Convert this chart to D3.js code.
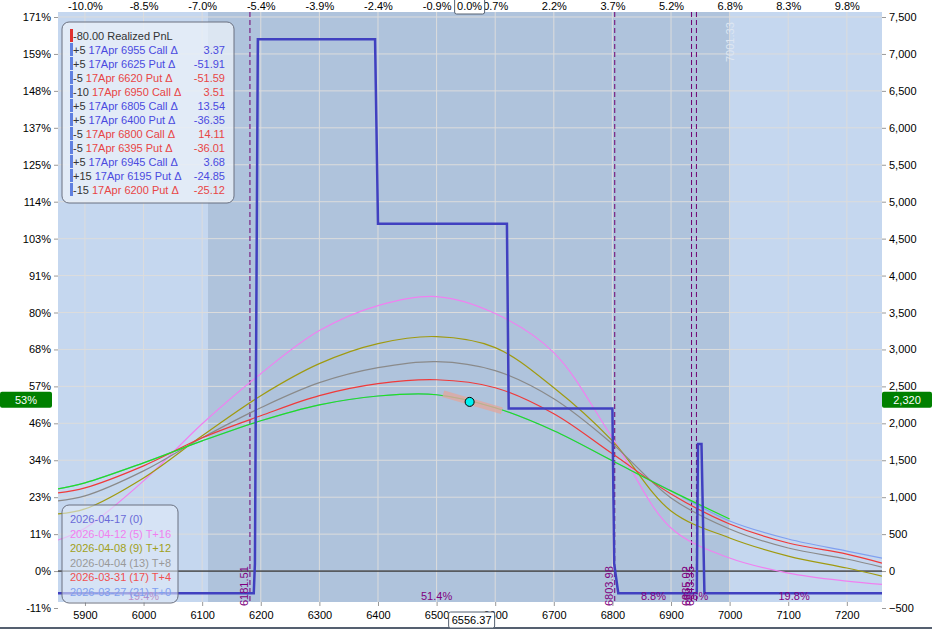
<!DOCTYPE html>
<html>
<head>
<meta charset="utf-8">
<script src="https://cdn.jsdelivr.net/npm/d3@7"></script>
<style>
  body { margin: 0; background: #fff; font-family: Arial, "Liberation Sans", sans-serif; }
  text { font-family: Arial, "Liberation Sans", sans-serif; }
</style>
</head>
<body>
<div id="chart"></div>
<script>
// ---- data ----
const spot = 6556.37;
const priceTicks = [5900, 6000, 6100, 6200, 6300, 6400, 6500, 6600, 6700, 6800, 6900, 7000, 7100, 7200];
const valueTicks = [-500, 0, 500, 1000, 1500, 2000, 2500, 3000, 3500, 4000, 4500, 5000, 5500, 6000, 6500, 7000, 7500];
const pctLabels = ["-11%", "0%", "11%", "23%", "34%", "46%", "57%", "68%", "80%", "91%", "103%", "114%", "125%", "137%", "148%", "159%", "171%"];
const curveX = [5854, 5900, 6000, 6100, 6200, 6300, 6400, 6500, 6600, 6700, 6800, 6900, 7000, 7100, 7200, 7260];

const expiryPts = [[5854, -300], [6188, -300], [6190, 100], [6195, 7200], [6395, 7200], [6400, 4700], [6620, 4700], [6623, 2200], [6800, 2200], [6803, 100], [6810, -300], [6944, -300], [6946, 1720], [6952, 1720], [6957, -300], [7260, -300]];
const pinkVals  = [420, 580, 1221, 1994, 2672, 3255, 3594, 3716, 3486, 2957, 1804, 583, 176, -27, -136, -180];
const oliveVals = [773, 841, 1261, 1831, 2374, 2808, 3079, 3174, 3025, 2482, 1763, 814, 448, 203, 41, -68];
const grayVals  = [949, 1017, 1356, 1804, 2211, 2550, 2753, 2835, 2713, 2333, 1722, 990, 570, 312, 163, 54];
const redVals   = [1058, 1126, 1424, 1804, 2102, 2374, 2536, 2590, 2482, 2129, 1587, 1044, 637, 380, 230, 108];
const lblueVals = [1112, 1194, 1465, 1763, 2034, 2250, 2370, 2387, 2211, 1899, 1492, 1085, 678, 434, 271, 176];
const greenVals = [1112, 1194, 1465, 1763, 2034, 2250, 2370, 2387, 2211, 1899, 1492, 1085, 705];

const legendRows = [
  ["+5", "17Apr 6955 Call Δ", "3.37", "#4a4ae0"],
  ["+5", "17Apr 6625 Put Δ", "-51.91", "#4a4ae0"],
  ["-5", "17Apr 6620 Put Δ", "-51.59", "#e84545"],
  ["-10", "17Apr 6950 Call Δ", "3.51", "#e84545"],
  ["+5", "17Apr 6805 Call Δ", "13.54", "#4a4ae0"],
  ["+5", "17Apr 6400 Put Δ", "-36.35", "#4a4ae0"],
  ["-5", "17Apr 6800 Call Δ", "14.11", "#e84545"],
  ["-5", "17Apr 6395 Put Δ", "-36.01", "#e84545"],
  ["+5", "17Apr 6945 Call Δ", "3.68", "#4a4ae0"],
  ["+15", "17Apr 6195 Put Δ", "-24.85", "#4a4ae0"],
  ["-15", "17Apr 6200 Put Δ", "-25.12", "#e84545"]
];
const dateRows = [
  ["2026-04-17 (0)", "#6a6ad8"],
  ["2026-04-12 (5) T+16", "#f080f0"],
  ["2026-04-08 (9) T+12", "#a0a020"],
  ["2026-04-04 (13) T+8", "#999999"],
  ["2026-03-31 (17) T+4", "#f05050"],
  ["2026-03-27 (21) T+0", "#80a0f0"]
];
const strikeLines = [6181.51, 6803.98, 6935.02, 6943.35];
const zoneLabels = [[6000, "19.4%"], [6500, "51.4%"], [6870, "8.8%"], [6942, "6.6%"], [7110, "19.8%"]];

// ---- layout ----
const W = 932, H = 629;
const m = {left: 58, right: 882, top: 12, bottom: 602};
const svg = d3.select("#chart").append("svg").attr("width", W).attr("height", H);

const x = d3.scaleLinear().domain([5854, 7260]).range([m.left, m.right]);
const y = d3.scaleLinear().domain([-500, 7500]).range([608, 17]);

svg.append("defs").append("clipPath").attr("id", "clip")
  .append("rect").attr("x", m.left).attr("y", m.top).attr("width", m.right - m.left).attr("height", m.bottom - m.top);

// backgrounds
svg.append("rect").attr("x", m.left).attr("y", m.top).attr("width", m.right - m.left).attr("height", m.bottom - m.top).attr("fill", "#c5d7ef");
svg.append("rect").attr("x", x(6110)).attr("y", m.top).attr("width", x(7000) - x(6110)).attr("height", m.bottom - m.top).attr("fill", "#afc3dc");

const g = svg.append("g").attr("clip-path", "url(#clip)");

// grid
g.selectAll(".vg").data(priceTicks).join("line")
  .attr("x1", d => x(d)).attr("x2", d => x(d)).attr("y1", m.top).attr("y2", m.bottom)
  .attr("stroke", "#dcdcdc").attr("stroke-width", 1);
g.selectAll(".hg").data(valueTicks).join("line")
  .attr("x1", m.left).attr("x2", m.right).attr("y1", d => y(d)).attr("y2", d => y(d))
  .attr("stroke", "#dcdcdc").attr("stroke-width", 1);
g.append("line").attr("x1", m.left).attr("x2", m.right).attr("y1", y(0)).attr("y2", y(0)).attr("stroke", "#000");

// strike lines
g.selectAll(".sl").data(strikeLines).join("line")
  .attr("x1", d => x(d)).attr("x2", d => x(d)).attr("y1", m.top).attr("y2", m.bottom)
  .attr("stroke", "#700070").attr("stroke-width", 1).attr("stroke-dasharray", "5,3");
svg.selectAll(".slt").data(strikeLines).join("text")
  .attr("transform", d => `translate(${x(d) - 2},606) rotate(-90)`)
  .attr("font-size", 11).attr("fill", "#800080").text(d => d.toFixed(2));
g.append("text").attr("transform", `translate(${x(7001.33) + 4},62) rotate(-90)`)
  .attr("font-size", 11).attr("fill", "#dde6f2").text("7001.33");

// curves
const line = d3.line().x(d => x(d[0])).y(d => y(d[1])).curve(d3.curveCatmullRom.alpha(0.5));
const series = [
  [lblueVals, "#80a0f0"], [pinkVals, "#f080f0"], [oliveVals, "#a09a10"],
  [grayVals, "#8a8a8a"], [redVals, "#f03a3a"], [greenVals, "#20e020"]
];
series.forEach(([vals, col]) => {
  g.append("path").datum(vals.map((v, i) => [curveX[i], v]))
    .attr("d", line).attr("fill", "none").attr("stroke", col).attr("stroke-width", 1.2);
});

// expiry payoff
g.append("path").datum(expiryPts)
  .attr("d", d3.line().x(d => x(d[0])).y(d => y(d[1])))
  .attr("fill", "none").attr("stroke", "#4040c0").attr("stroke-width", 2.5);

// zone labels
g.selectAll(".zl").data(zoneLabels).join("text")
  .attr("x", d => x(d[0])).attr("y", 600).attr("text-anchor", "middle")
  .attr("font-size", 11).attr("fill", "#800080").text(d => d[1]);

// spot marker
const spotVal = 2290;
g.append("line").attr("x1", x(spot - 45)).attr("x2", x(spot + 55))
  .attr("y1", y(spotVal + 110)).attr("y2", y(spotVal - 120))
  .attr("stroke", "#e0a8a0").attr("stroke-width", 7).attr("opacity", 0.8);
g.append("circle").attr("cx", x(spot)).attr("cy", y(spotVal)).attr("r", 4.5)
  .attr("fill", "#00f0f0").attr("stroke", "#000");

// axes
const axB = svg.append("g").attr("transform", `translate(0,${m.bottom})`)
  .call(d3.axisBottom(x).tickValues(priceTicks).tickSize(4).tickFormat(d3.format("d")));
const axT = svg.append("g").attr("transform", `translate(0,${m.top})`)
  .call(d3.axisTop(x).tickValues(priceTicks).tickSize(0).tickFormat(d => ((d - spot) / spot * 100).toFixed(1) + "%"));
const axR = svg.append("g").attr("transform", `translate(${m.right},0)`)
  .call(d3.axisRight(y).tickValues(valueTicks).tickSize(4).tickFormat(d3.format(",")));
const axL = svg.append("g").attr("transform", `translate(${m.left},0)`)
  .call(d3.axisLeft(y).tickValues(valueTicks).tickSize(4).tickFormat((d, i) => pctLabels[i]));
[axB, axT, axR, axL].forEach(a => {
  a.select(".domain").remove();
  a.selectAll("text").attr("font-size", 11).attr("fill", "#000");
  a.selectAll("line").attr("stroke", "#999");
});
axT.selectAll("text").attr("dy", "0.3em").attr("y", -5);
axB.selectAll("text").attr("dy", "0.9em");
svg.append("line").attr("x1", 0).attr("x2", W).attr("y1", H - 1).attr("y2", H - 1).attr("stroke", "#556070").attr("stroke-width", 2);

// boxed spot labels
function box(cx, cy, txt, fill, col, w) {
  svg.append("rect").attr("x", cx - w / 2).attr("y", cy - 8).attr("width", w).attr("height", 16)
    .attr("fill", fill).attr("stroke", fill === "#fff" ? "#556070" : "none").attr("rx", 2);
  svg.append("text").attr("x", cx).attr("y", cy + 4).attr("text-anchor", "middle")
    .attr("font-size", 11).attr("fill", col).text(txt);
}
box(x(spot), 6, "0.0%", "#fff", "#000", 30);
box(x(spot) + 2, 620, spot.toFixed(2), "#fff", "#000", 46);
box(26, y(2320), "53%", "#008000", "#fff", 52);
box(907, y(2320), "2,320", "#008000", "#fff", 50);

// position legend
const lg = svg.append("g").attr("transform", "translate(62,22)");
lg.append("rect").attr("width", 172).attr("height", 181).attr("rx", 7)
  .attr("fill", "rgba(235,242,250,0.75)").attr("stroke", "#6a7080");
lg.append("rect").attr("x", 8).attr("y", 7).attr("width", 3).attr("height", 13).attr("fill", "#e03030");
lg.append("text").attr("x", 11).attr("y", 18).attr("font-size", 11).attr("fill", "#333").text("-80.00 Realized PnL");
legendRows.forEach((r, i) => {
  const yy = 18 + (i + 1) * 14;
  lg.append("rect").attr("x", 8).attr("y", yy - 11).attr("width", 3).attr("height", 13).attr("fill", "#6080e0");
  const t = lg.append("text").attr("x", 11).attr("y", yy).attr("font-size", 11);
  t.append("tspan").attr("fill", "#333").text(r[0] + " ");
  t.append("tspan").attr("fill", r[3]).text(r[1]);
  lg.append("text").attr("x", 163).attr("y", yy).attr("text-anchor", "end").attr("font-size", 11).attr("fill", r[3]).text(r[2]);
});

// dates legend
const dg = svg.append("g").attr("transform", "translate(62,505)");
dg.append("rect").attr("width", 116).attr("height", 98).attr("rx", 7)
  .attr("fill", "rgba(225,235,248,0.6)").attr("stroke", "#6a7080");
dateRows.forEach((r, i) => {
  dg.append("text").attr("x", 8).attr("y", 18 + i * 14.5).attr("font-size", 11).attr("fill", r[1]).text(r[0]);
});
</script>
</body>
</html>
